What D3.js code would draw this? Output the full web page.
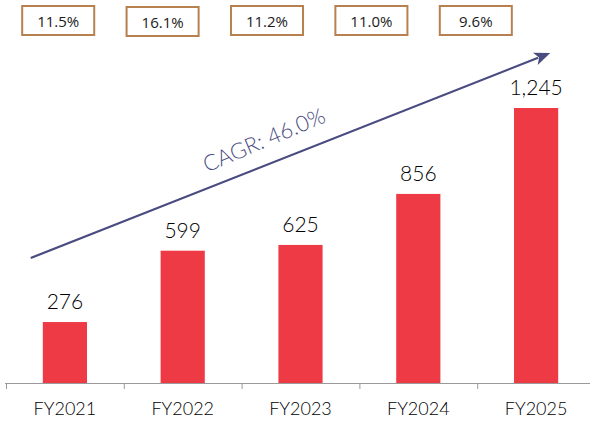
<!DOCTYPE html>
<html>
<head>
<meta charset="utf-8">
<script src="https://cdn.jsdelivr.net/npm/d3@7"></script>
<style>
  html, body { margin: 0; padding: 0; background: #fff; }
  svg { display: block; }
</style>
</head>
<body>
<svg id="chart" width="590" height="421"></svg>
<script>
// ---- data ----
const categories = ["FY2021", "FY2022", "FY2023", "FY2024", "FY2025"];
const values = [276, 599, 625, 856, 1245];
const valueLabels = ["276", "599", "625", "856", "1,245"];
const marginLabels = ["11.5%", "16.1%", "11.2%", "11.0%", "9.6%"];
const cagrLabel = "CAGR: 46.0%";
// arrow endpoints in data terms: [category index + fraction of band, value]
const arrowFrom = [0.21, 566];
const arrowTo = [4.62, 1494];

// ---- layout ----
const axisY = 383;
const svg = d3.select("#chart");

const x = d3.scaleBand().domain(categories).range([6, 595]).paddingInner(0).paddingOuter(0);
const y = d3.scaleLinear().domain([0, d3.max(values)]).range([axisY, 108]);
const barW = x.bandwidth() * 0.375;

const boxX = d3.scaleBand().domain(marginLabels.map((d, i) => i)).range([6, 528]).paddingInner(0.31).paddingOuter(0.155);

const mainFont = "Lato, 'Open Sans', sans-serif";
const barColor = "#ee3a44";
const navy = "#4a4b80";

// bars
svg.append("g").selectAll("rect").data(values).join("rect")
  .attr("x", (d, i) => x(categories[i]) + x.bandwidth() / 2 - barW / 2)
  .attr("y", d => y(d))
  .attr("width", barW)
  .attr("height", d => axisY - y(d))
  .attr("fill", barColor);

// value labels
svg.append("g").selectAll("text").data(values).join("text")
  .attr("x", (d, i) => x(categories[i]) + x.bandwidth() / 2)
  .attr("y", d => y(d) - 13)
  .attr("text-anchor", "middle")
  .attr("font-family", mainFont)
  .attr("font-weight", 300)
  .attr("font-size", 21)
  .attr("fill", "#000")
  .text((d, i) => valueLabels[i]);

// x axis
const xAxis = d3.axisBottom(d3.scaleLinear().domain([0, categories.length]).range([6, 595]))
  .tickValues(d3.range(0, categories.length + 1))
  .tickSize(6)
  .tickFormat("");
const ax = svg.append("g").attr("transform", `translate(0,${axisY})`).call(xAxis);
ax.select(".domain").attr("stroke", "#9a9a9a").attr("d", "M5,0.5H590");
ax.selectAll(".tick line").attr("stroke", "#9a9a9a");

svg.append("g").selectAll("text").data(categories).join("text")
  .attr("x", d => x(d) + x.bandwidth() / 2)
  .attr("y", 415)
  .attr("text-anchor", "middle")
  .attr("font-family", mainFont)
  .attr("font-weight", 300)
  .attr("font-size", 18)
  .attr("fill", "#000")
  .text(d => d);

// margin boxes
const boxes = svg.append("g").selectAll("g").data(marginLabels).join("g")
  .attr("transform", (d, i) => `translate(${boxX(i)},${i === 1 ? 7 : 6})`);
boxes.append("rect")
  .attr("x", 0).attr("y", 0)
  .attr("width", boxX.bandwidth()).attr("height", 29)
  .attr("fill", "#fff")
  .attr("stroke", "#b7804f")
  .attr("stroke-width", 2);
boxes.append("text")
  .attr("x", boxX.bandwidth() / 2)
  .attr("y", 21)
  .attr("text-anchor", "middle")
  .attr("font-family", "'Open Sans', sans-serif")
  .attr("font-size", 15)
  .attr("fill", "#1a1a1a")
  .text(d => d);

// CAGR arrow
const px = a => x(categories[0]) + a[0] * x.step();
const x1 = px(arrowFrom), y1 = y(arrowFrom[1]);
const x2 = px(arrowTo), y2 = y(arrowTo[1]);
const ang = Math.atan2(y2 - y1, x2 - x1);
const headLen = 16, headHalf = 6.5;
const bx = x2 - headLen * Math.cos(ang), by = y2 - headLen * Math.sin(ang);
svg.append("line")
  .attr("x1", x1).attr("y1", y1).attr("x2", bx + 3 * Math.cos(ang)).attr("y2", by + 3 * Math.sin(ang))
  .attr("stroke", navy).attr("stroke-width", 2.2);
svg.append("path")
  .attr("d", `M${x2},${y2}L${bx - headHalf * Math.sin(ang)},${by + headHalf * Math.cos(ang)}L${bx + 4 * Math.cos(ang)},${by + 4 * Math.sin(ang)}L${bx + headHalf * Math.sin(ang)},${by - headHalf * Math.cos(ang)}Z`)
  .attr("fill", navy);

// CAGR text
const deg = ang * 180 / Math.PI - 1.5;
svg.append("text")
  .attr("transform", `translate(267,147) rotate(${deg})`)
  .attr("text-anchor", "middle")
  .attr("font-family", mainFont)
  .attr("font-weight", 300)
  .attr("font-size", 22)
  .attr("fill", navy)
  .text(cagrLabel);
</script>
</body>
</html>
